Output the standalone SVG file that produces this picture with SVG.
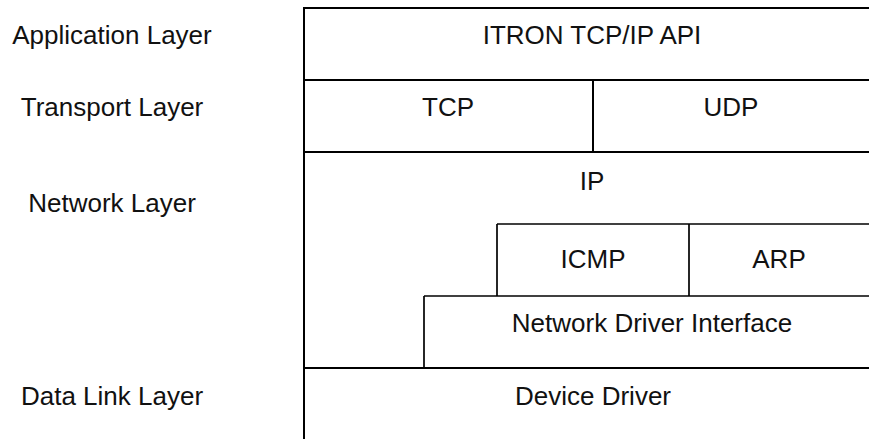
<svg xmlns="http://www.w3.org/2000/svg" width="869" height="439" viewBox="0 0 869 439">
  <style>
    .ln { stroke: #000; stroke-width: 2; fill: none; }
    .thin { stroke: #000; stroke-width: 1.7; fill: none; }
    text { font-family: "Liberation Sans", Arial, sans-serif; font-size: 26px; fill: #111; text-anchor: middle; }
  </style>
  <rect width="869" height="439" fill="#fff"/>

  <!-- layer names on the left -->
  <g id="label-application"><text x="112" y="44">Application Layer</text></g>
  <g id="label-transport"><text x="112" y="116">Transport Layer</text></g>
  <g id="label-network"><text x="112" y="212">Network Layer</text></g>
  <g id="label-datalink"><text x="112" y="405">Data Link Layer</text></g>

  <!-- protocol stack blocks -->
  <g id="itron-api">
    <text x="592" y="44">ITRON TCP/IP API</text>
  </g>
  <g id="tcp">
    <text x="448" y="116">TCP</text>
  </g>
  <g id="udp">
    <text x="731" y="116">UDP</text>
  </g>
  <g id="ip">
    <text x="592" y="190">IP</text>
  </g>
  <g id="icmp">
    <text x="593" y="268">ICMP</text>
  </g>
  <g id="arp">
    <text x="779" y="268">ARP</text>
  </g>
  <g id="network-driver-interface">
    <text x="652" y="332">Network Driver Interface</text>
  </g>
  <g id="device-driver">
    <text x="593" y="405">Device Driver</text>
  </g>

  <!-- stack outline and dividers -->
  <g id="connectors">
    <line class="ln" x1="304" y1="7" x2="304" y2="439"/>
    <line class="ln" x1="303" y1="8" x2="869" y2="8"/>
    <line class="ln" x1="303" y1="80" x2="869" y2="80"/>
    <line class="ln" x1="593" y1="80" x2="593" y2="152"/>
    <line class="ln" x1="303" y1="152" x2="869" y2="152"/>
    <line class="thin" x1="497" y1="224" x2="869" y2="224"/>
    <line class="thin" x1="497" y1="224" x2="497" y2="296"/>
    <line class="thin" x1="689" y1="224" x2="689" y2="296"/>
    <line class="thin" x1="424" y1="296" x2="869" y2="296"/>
    <line class="thin" x1="424" y1="296" x2="424" y2="368"/>
    <line class="ln" x1="303" y1="368" x2="869" y2="368"/>
  </g>
</svg>
